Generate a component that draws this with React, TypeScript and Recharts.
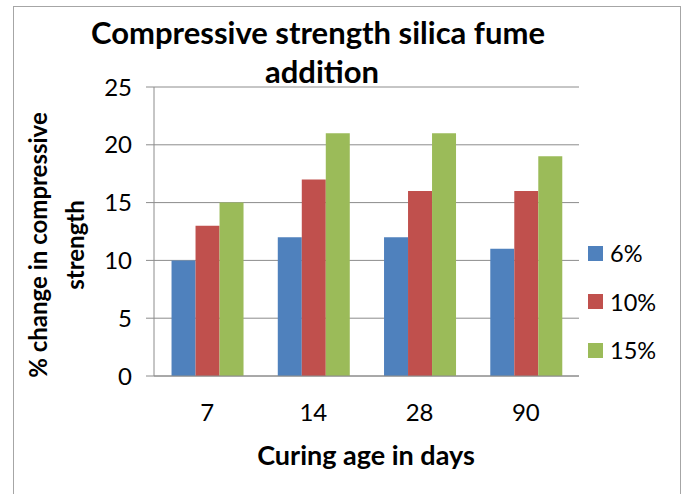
import React from "react";
import { BarChart, Bar, XAxis, YAxis, CartesianGrid } from "recharts";

const categories = ["7", "14", "28", "90"];
const pct6 = [10, 12, 12, 11];
const pct10 = [13, 17, 16, 16];
const pct15 = [15, 21, 21, 19];
const yTicks = [0, 5, 10, 15, 20, 25];

const series = [
  { key: "s6", name: "6%", color: "#4f81bd", values: pct6 },
  { key: "s10", name: "10%", color: "#c0504d", values: pct10 },
  { key: "s15", name: "15%", color: "#9bbb59", values: pct15 },
];

const data = categories.map((c, i) => {
  const row: any = { name: c };
  series.forEach((s) => (row[s.key] = s.values[i]));
  return row;
});

const FONT = "Lato, 'Noto Sans', sans-serif";

export default function App() {
  return (
    <div
      style={{
        position: "absolute",
        left: 0,
        top: 0,
        width: 685,
        height: 494,
        background: "#fff",
        overflow: "hidden",
        fontFamily: FONT,
        color: "#000",
      }}
    >
      <div
        style={{
          position: "absolute",
          left: 13,
          top: 6,
          width: 668,
          height: 500,
          border: "1px solid #a6a6a6",
          boxSizing: "border-box",
        }}
      />
      <div style={{ position: "absolute", left: 0, top: 0, width: 685, height: 494 }}>
        <BarChart
          width={685}
          height={494}
          data={data}
          margin={{ top: 87, right: 106, left: 0, bottom: 0 }}
          barCategoryGap="16.5%"
          barGap={0}
        >
          <CartesianGrid vertical={false} stroke="#8c8c8c" strokeWidth={1} />
          <YAxis
            width={154}
            domain={[0, 25]}
            ticks={yTicks}
            interval={0}
            tickSize={8}
            tickMargin={14}
            axisLine={{ stroke: "#8c8c8c" }}
            tickLine={{ stroke: "#8c8c8c" }}
            tick={{ fill: "#000", fontSize: 24, fontFamily: FONT }}
          />
          <XAxis
            dataKey="name"
            height={118}
            tickLine={false}
            tickMargin={22}
            axisLine={{ stroke: "#8c8c8c" }}
            tick={{ fill: "#000", fontSize: 24, fontFamily: FONT }}
          />
          {series.map((s) => (
            <Bar
              key={s.key}
              dataKey={s.key}
              name={s.name}
              fill={s.color}
              isAnimationActive={false}
            />
          ))}
        </BarChart>
      </div>

      {/* title */}
      <div
        style={{
          position: "absolute",
          left: 68,
          width: 500,
          top: 13,
          textAlign: "center",
          fontWeight: 700,
          fontSize: 31,
          lineHeight: "39px",
          whiteSpace: "nowrap",
        }}
      >
        Compressive strength silica fume
        <br />
        <span style={{ marginLeft: 8 }}>addition</span>
      </div>

      {/* y axis title */}
      <div
        style={{
          position: "absolute",
          left: 55 - 160,
          top: 245 - 36,
          width: 320,
          height: 72,
          transform: "rotate(-90deg)",
          textAlign: "center",
          fontWeight: 700,
          fontSize: 24,
          lineHeight: "37px",
          whiteSpace: "nowrap",
        }}
      >
        % change in compressive
        <br />
        strength
      </div>

      {/* x axis title */}
      <div
        style={{
          position: "absolute",
          left: 166,
          width: 400,
          top: 439,
          textAlign: "center",
          fontWeight: 700,
          fontSize: 27,
          lineHeight: "32px",
          whiteSpace: "nowrap",
        }}
      >
        Curing age in days
      </div>

      {/* legend */}
      {series.map((s, i) => (
        <div
          key={s.key}
          style={{
            position: "absolute",
            left: 588,
            top: 253 + i * 48.5 - 14,
            height: 28,
            display: "flex",
            alignItems: "center",
            fontSize: 23.5,
          }}
        >
          <span
            style={{
              display: "inline-block",
              width: 15,
              height: 15,
              background: s.color,
              marginRight: 7,
            }}
          />
          {s.name}
        </div>
      ))}
    </div>
  );
}
